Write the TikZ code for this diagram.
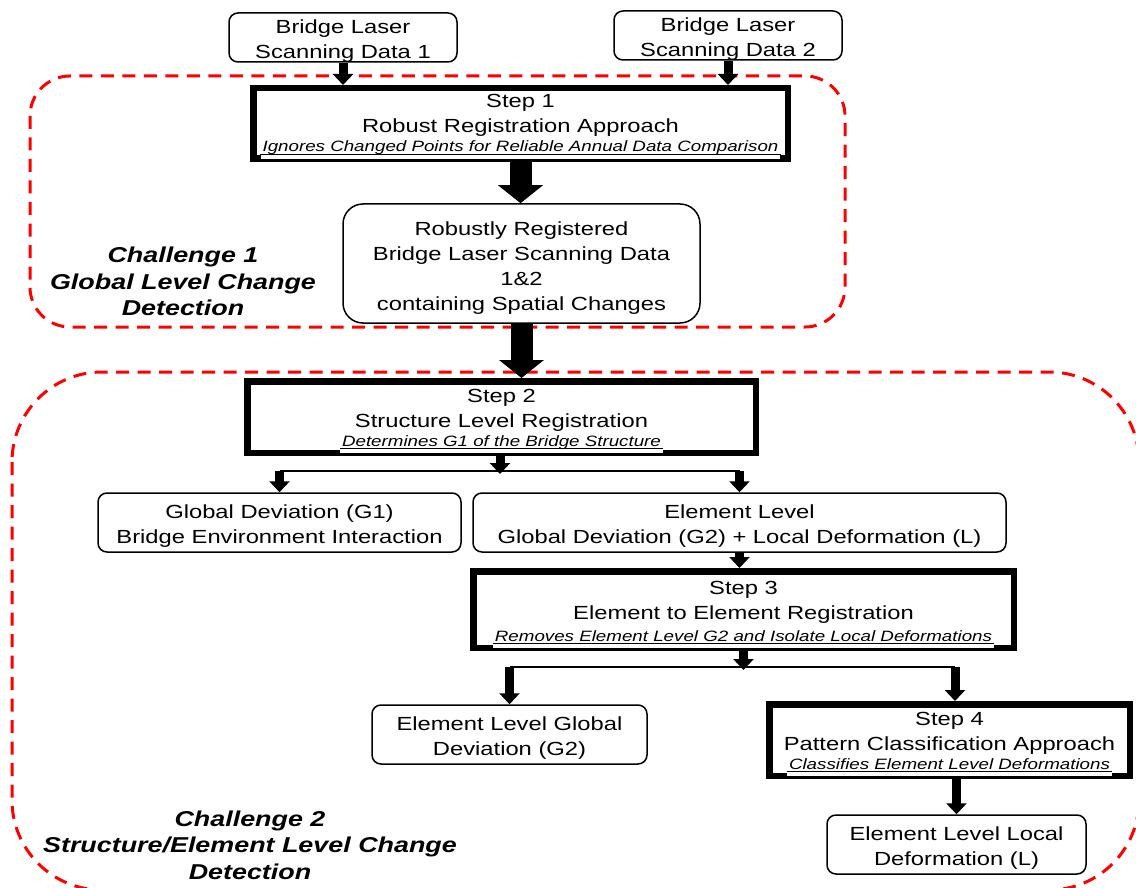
\documentclass[tikz,border=0pt]{standalone}
\usepackage{fontspec}
\setmainfont{Liberation Sans}[FakeStretch=1.25]
\usetikzlibrary{arrows.meta}
\begin{document}
\begin{tikzpicture}[x=1pt,y=-1pt,
  every node/.style={inner sep=0pt, font=\fontsize{19}{25}\selectfont},
  rbox/.style={draw, fill=white, line width=1.5pt, rounded corners=9pt, align=center, text height=45pt},
  stepbox/.style={draw, fill=white, line width=6.5pt},
  steptext/.style={align=center},
  note/.style={font=\fontsize{15}{18}\selectfont\itshape, fill=white, inner xsep=2pt,
               text height=11pt, text depth=7pt, anchor=base},
  noteline/.style={line width=1pt},
  zone/.style={draw=red, line width=3pt, dash pattern=on 13pt off 8.5pt},
  arr/.style={line width=9pt, -{Triangle[width=20pt,length=11pt]}},
  bigarr/.style={line width=22pt, -{Triangle[width=44pt,length=18pt]}},
  link/.style={line width=1.5pt},
  challenge/.style={align=center, font=\fontsize{21.5}{26.5}\selectfont\bfseries\itshape},
]
\useasboundingbox (0,0) rectangle (1136,888);

% dashed challenge zones
\draw[zone, rounded corners=40pt] (30,76) rectangle (845,327);
\draw[zone, rounded corners=90pt] (12,372) rectangle (1139,890);

% input data
\node[rbox, minimum width=228pt, minimum height=49pt] (d1) at (343,37.5) {Bridge Laser\\Scanning Data 1};
\node[rbox, minimum width=228pt, minimum height=49pt] (d2) at (728,35.5) {Bridge Laser\\Scanning Data 2};

% step 1
\node[stepbox, minimum width=534.5pt, minimum height=70.5pt] (s1) at (520.5,123.5) {};
\node[steptext] (s1t) at (520.5,115) {Step 1\\Robust Registration Approach};
\node[note] (s1n) at (520.5,152) {Ignores Changed Points for Reliable Annual Data Comparison};
\draw[noteline] ([yshift=-2.5pt]s1n.base west) -- ([yshift=-2.5pt]s1n.base east);

\node[rbox, rounded corners=20pt, text height=97pt, minimum width=357pt, minimum height=119pt] (rb) at (521.5,263.5)
  {Robustly Registered\\Bridge Laser Scanning Data\\1\&2\\containing Spatial Changes};

\node[challenge] (c1) at (183,281.5) {Challenge 1\\Global Level Change\\Detection};

% step 2
\node[stepbox, minimum width=508.5pt, minimum height=71.5pt] (s2) at (501.5,417) {};
\node[steptext] (s2t) at (501.5,410.5) {Step 2\\Structure Level Registration};
\node[note] (s2n) at (501.5,446) {Determines G1 of the Bridge Structure};
\draw[noteline] ([yshift=-2.5pt]s2n.base west) -- ([yshift=-2.5pt]s2n.base east);

\node[rbox, minimum width=363pt, minimum height=59pt] (g1) at (279.5,522.5) {Global Deviation (G1)\\Bridge Environment Interaction};
\node[rbox, minimum width=533pt, minimum height=59pt] (el) at (739.5,522.5) {Element Level\\Global Deviation (G2) + Local Deformation (L)};

% step 3
\node[stepbox, minimum width=540.5pt, minimum height=76.5pt] (s3) at (743.5,609.5) {};
\node[steptext] (s3t) at (743.5,602) {Step 3\\Element to Element Registration};
\node[note] (s3n) at (743.5,641) {Removes Element Level G2 and Isolate Local Deformations};
\draw[noteline] ([yshift=-2.5pt]s3n.base west) -- ([yshift=-2.5pt]s3n.base east);

\node[rbox, minimum width=275pt, minimum height=59pt] (g2) at (509.5,734.5) {Element Level Global\\Deviation (G2)};

% step 4
\node[stepbox, minimum width=360.5pt, minimum height=71.5pt] (s4) at (949.5,740) {};
\node[steptext] (s4t) at (949.5,733.5) {Step 4\\Pattern Classification Approach};
\node[note] (s4n) at (949.5,769) {Classifies Element Level Deformations};
\draw[noteline] ([yshift=-2.5pt]s4n.base west) -- ([yshift=-2.5pt]s4n.base east);

\node[rbox, minimum width=259pt, minimum height=59pt] (lc) at (956.5,844.5) {Element Level Local\\Deformation (L)};

\node[challenge] (c2) at (250,845) {Challenge 2\\Structure/Element Level Change\\Detection};

% connectors
\draw[arr] (d1.south) -- (d1.south |- s1.north);
\draw[arr] (d2.south) -- (d2.south |- s1.north);
\draw[bigarr] (s1.south) -- (s1.south |- rb.north);
\draw[bigarr] (rb.south) -- (rb.south |- s2.north);

\coordinate (j2) at (500,471);
\draw[link] (g1.north |- j2) -- (el.north |- j2);
\draw[arr] (s2.south -| j2) -- ([yshift=-3pt]j2);
\draw[arr] (g1.north |- j2) -- (g1.north);
\draw[arr] (el.north |- j2) -- (el.north);
\draw[arr] (el.south) -- (el.south |- s3.north);

\coordinate (j3) at (743.5,667);
\coordinate (j3r) at (955,667);
\draw[link] (g2.north |- j3) -- (j3r);
\draw[arr] (s3.south) -- ([yshift=-3pt]j3);
\draw[arr] (g2.north |- j3) -- (g2.north);
\draw[arr] (j3r) -- (j3r |- s4.north);
\draw[arr] (lc.north |- s4.south) -- (lc.north);
\end{tikzpicture}
\end{document}
